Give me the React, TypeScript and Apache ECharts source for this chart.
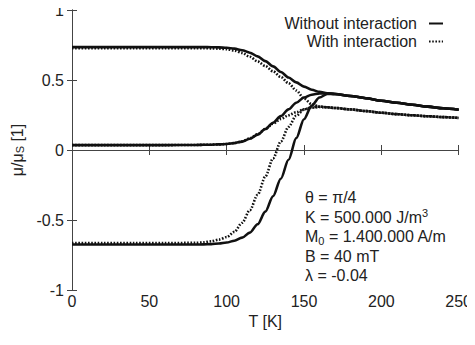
import React, { useEffect, useRef } from "react";
import * as echarts from "echarts";

const T = [0, 20, 40, 60, 80, 85, 90, 95, 100, 105, 110, 115, 120, 125, 130, 135, 140, 145, 150, 155, 160, 165, 170, 180, 190, 200, 210, 220, 230, 240, 250];

const solidTail = [0.4, 0.386, 0.37, 0.352, 0.337, 0.323, 0.31, 0.298, 0.287];
const dottedTail = [0.3, 0.29, 0.278, 0.266, 0.256, 0.248, 0.241, 0.235, 0.229];

const withoutUpper = [0.735, 0.735, 0.735, 0.735, 0.735, 0.735, 0.734, 0.733, 0.73, 0.724, 0.713, 0.695, 0.669, 0.635, 0.597, 0.557, 0.518, 0.483, 0.453, 0.43, 0.415, 0.405, ...solidTail];
const withoutMiddle = [0.035, 0.035, 0.035, 0.035, 0.036, 0.037, 0.038, 0.04, 0.043, 0.049, 0.06, 0.08, 0.11, 0.15, 0.195, 0.242, 0.29, 0.338, 0.375, 0.395, 0.404, 0.405, ...solidTail];
const withoutLower = [-0.675, -0.675, -0.675, -0.675, -0.675, -0.674, -0.672, -0.668, -0.661, -0.648, -0.626, -0.59, -0.53, -0.44, -0.33, -0.205, -0.07, 0.085, 0.22, 0.318, 0.375, 0.4, ...solidTail];

const withUpper = [0.728, 0.728, 0.728, 0.728, 0.728, 0.727, 0.726, 0.724, 0.72, 0.71, 0.693, 0.666, 0.633, 0.6, 0.562, 0.522, 0.477, 0.425, 0.368, 0.327, 0.31, 0.305, ...dottedTail];
const withMiddle = [0.035, 0.035, 0.035, 0.035, 0.036, 0.037, 0.038, 0.04, 0.043, 0.05, 0.062, 0.083, 0.113, 0.15, 0.188, 0.222, 0.248, 0.27, 0.29, 0.302, 0.307, 0.305, ...dottedTail];
const withLower = [-0.665, -0.665, -0.665, -0.665, -0.663, -0.66, -0.652, -0.64, -0.622, -0.585, -0.52, -0.43, -0.32, -0.19, -0.06, 0.06, 0.165, 0.245, 0.29, 0.305, 0.31, 0.305, ...dottedTail];

const xTicks = { min: 0, max: 250, interval: 50 };
const yTicks = { min: -1, max: 1, interval: 0.5 };

const NAME_WITHOUT = "Without interaction";
const NAME_WITH = "With interaction";

const FONT = "'Liberation Sans', Arial, Helvetica, sans-serif";
const INK = "#111";
const FRAME = "#444";

export default function App() {
  const ref = useRef<HTMLDivElement>(null);

  useEffect(() => {
    if (!ref.current) return;
    const chart = echarts.init(ref.current, undefined, { renderer: "svg" });

    const mk = (name: string, vals: number[], dotted: boolean) => ({
      type: "line",
      name,
      data: T.map((t, i) => [t, vals[i]]),
      smooth: 0.3,
      smoothMonotone: "x",
      symbol: "none",
      xAxisIndex: 0,
      yAxisIndex: 0,
      lineStyle: {
        color: INK,
        width: 2.6,
        type: dotted ? [1.6, 1.6] : "solid",
      },
      itemStyle: { color: INK },
      z: dotted ? 3 : 2,
    });

    const axisCommon = {
      axisLine: { show: true, lineStyle: { color: FRAME, width: 1 } },
      axisTick: { show: true, inside: true, length: 5, lineStyle: { color: FRAME } },
      splitLine: { show: false },
    };

    chart.setOption({
      animation: false,
      backgroundColor: "#fff",
      textStyle: { fontFamily: FONT },
      grid: { left: 72, right: 14, top: 10, bottom: 55, containLabel: false },
      legend: {
        data: [NAME_WITHOUT, NAME_WITH],
        orient: "vertical",
        align: "right",
        right: 26,
        top: 10,
        itemWidth: 14,
        itemHeight: 10,
        itemGap: 1,
        itemStyle: { color: "rgba(0,0,0,0)", borderColor: "rgba(0,0,0,0)", borderWidth: 0, opacity: 0 },
        textStyle: { fontSize: 16, color: "#222", fontFamily: FONT, lineHeight: 17, padding: [0, 7, 0, 0] },
      },
      xAxis: [
        {
          type: "value",
          ...xTicks,
          position: "bottom",
          ...axisCommon,
          axisLabel: { fontSize: 16, color: "#222", margin: 3, fontFamily: FONT },
          name: "T [K]",
          nameLocation: "middle",
          nameGap: 21,
          nameTextStyle: { fontSize: 16, color: "#222", fontFamily: FONT },
        },
        {
          type: "value",
          ...xTicks,
          position: "top",
          ...axisCommon,
          axisLabel: { show: false },
        },
      ],
      yAxis: [
        {
          type: "value",
          ...yTicks,
          position: "left",
          ...axisCommon,
          axisLabel: { fontSize: 16, color: "#222", margin: 8, fontFamily: FONT },
          name: "{m|μ/μ}{s|S}{m| [1]}",
          nameLocation: "middle",
          nameGap: 38,
          nameTextStyle: {
            fontFamily: FONT,
            color: "#222",
            rich: {
              m: { fontSize: 16, fontFamily: FONT, color: "#222" },
              s: { fontSize: 11, fontFamily: FONT, color: "#222", verticalAlign: "bottom", padding: [6, 0, 0, 0] },
            },
          },
        },
        {
          type: "value",
          ...yTicks,
          position: "right",
          ...axisCommon,
          axisLabel: { show: false },
        },
      ],
      graphic: [
        {
          type: "text",
          left: 305,
          top: 188,
          silent: true,
          style: {
            text: [
              "{m|θ = π/4}",
              "{m|K = 500.000 J/m}{sup|3}",
              "{m|M}{sub|0}{m| = 1.400.000 A/m}",
              "{m|B = 40 mT}",
              "{m|λ = -0.04}",
            ].join("\n"),
            fill: "#222",
            fontFamily: FONT,
            fontSize: 16,
            lineHeight: 19.5,
            rich: {
              m: { fontSize: 16, fontFamily: FONT, fill: "#222", lineHeight: 19.5 },
              sup: { fontSize: 11, fontFamily: FONT, fill: "#222", verticalAlign: "top", lineHeight: 19.5 },
              sub: { fontSize: 11, fontFamily: FONT, fill: "#222", verticalAlign: "bottom", lineHeight: 19.5, padding: [6, 0, 0, 0] },
            },
          },
        },
      ],
      series: [
        mk(NAME_WITHOUT, withoutUpper, false),
        mk(NAME_WITHOUT, withoutMiddle, false),
        mk(NAME_WITHOUT, withoutLower, false),
        mk(NAME_WITH, withUpper, true),
        mk(NAME_WITH, withMiddle, true),
        mk(NAME_WITH, withLower, true),
      ],
    });

    return () => chart.dispose();
  }, []);

  return <div ref={ref} style={{ width: 475, height: 345, margin: -8 }} />;
}
